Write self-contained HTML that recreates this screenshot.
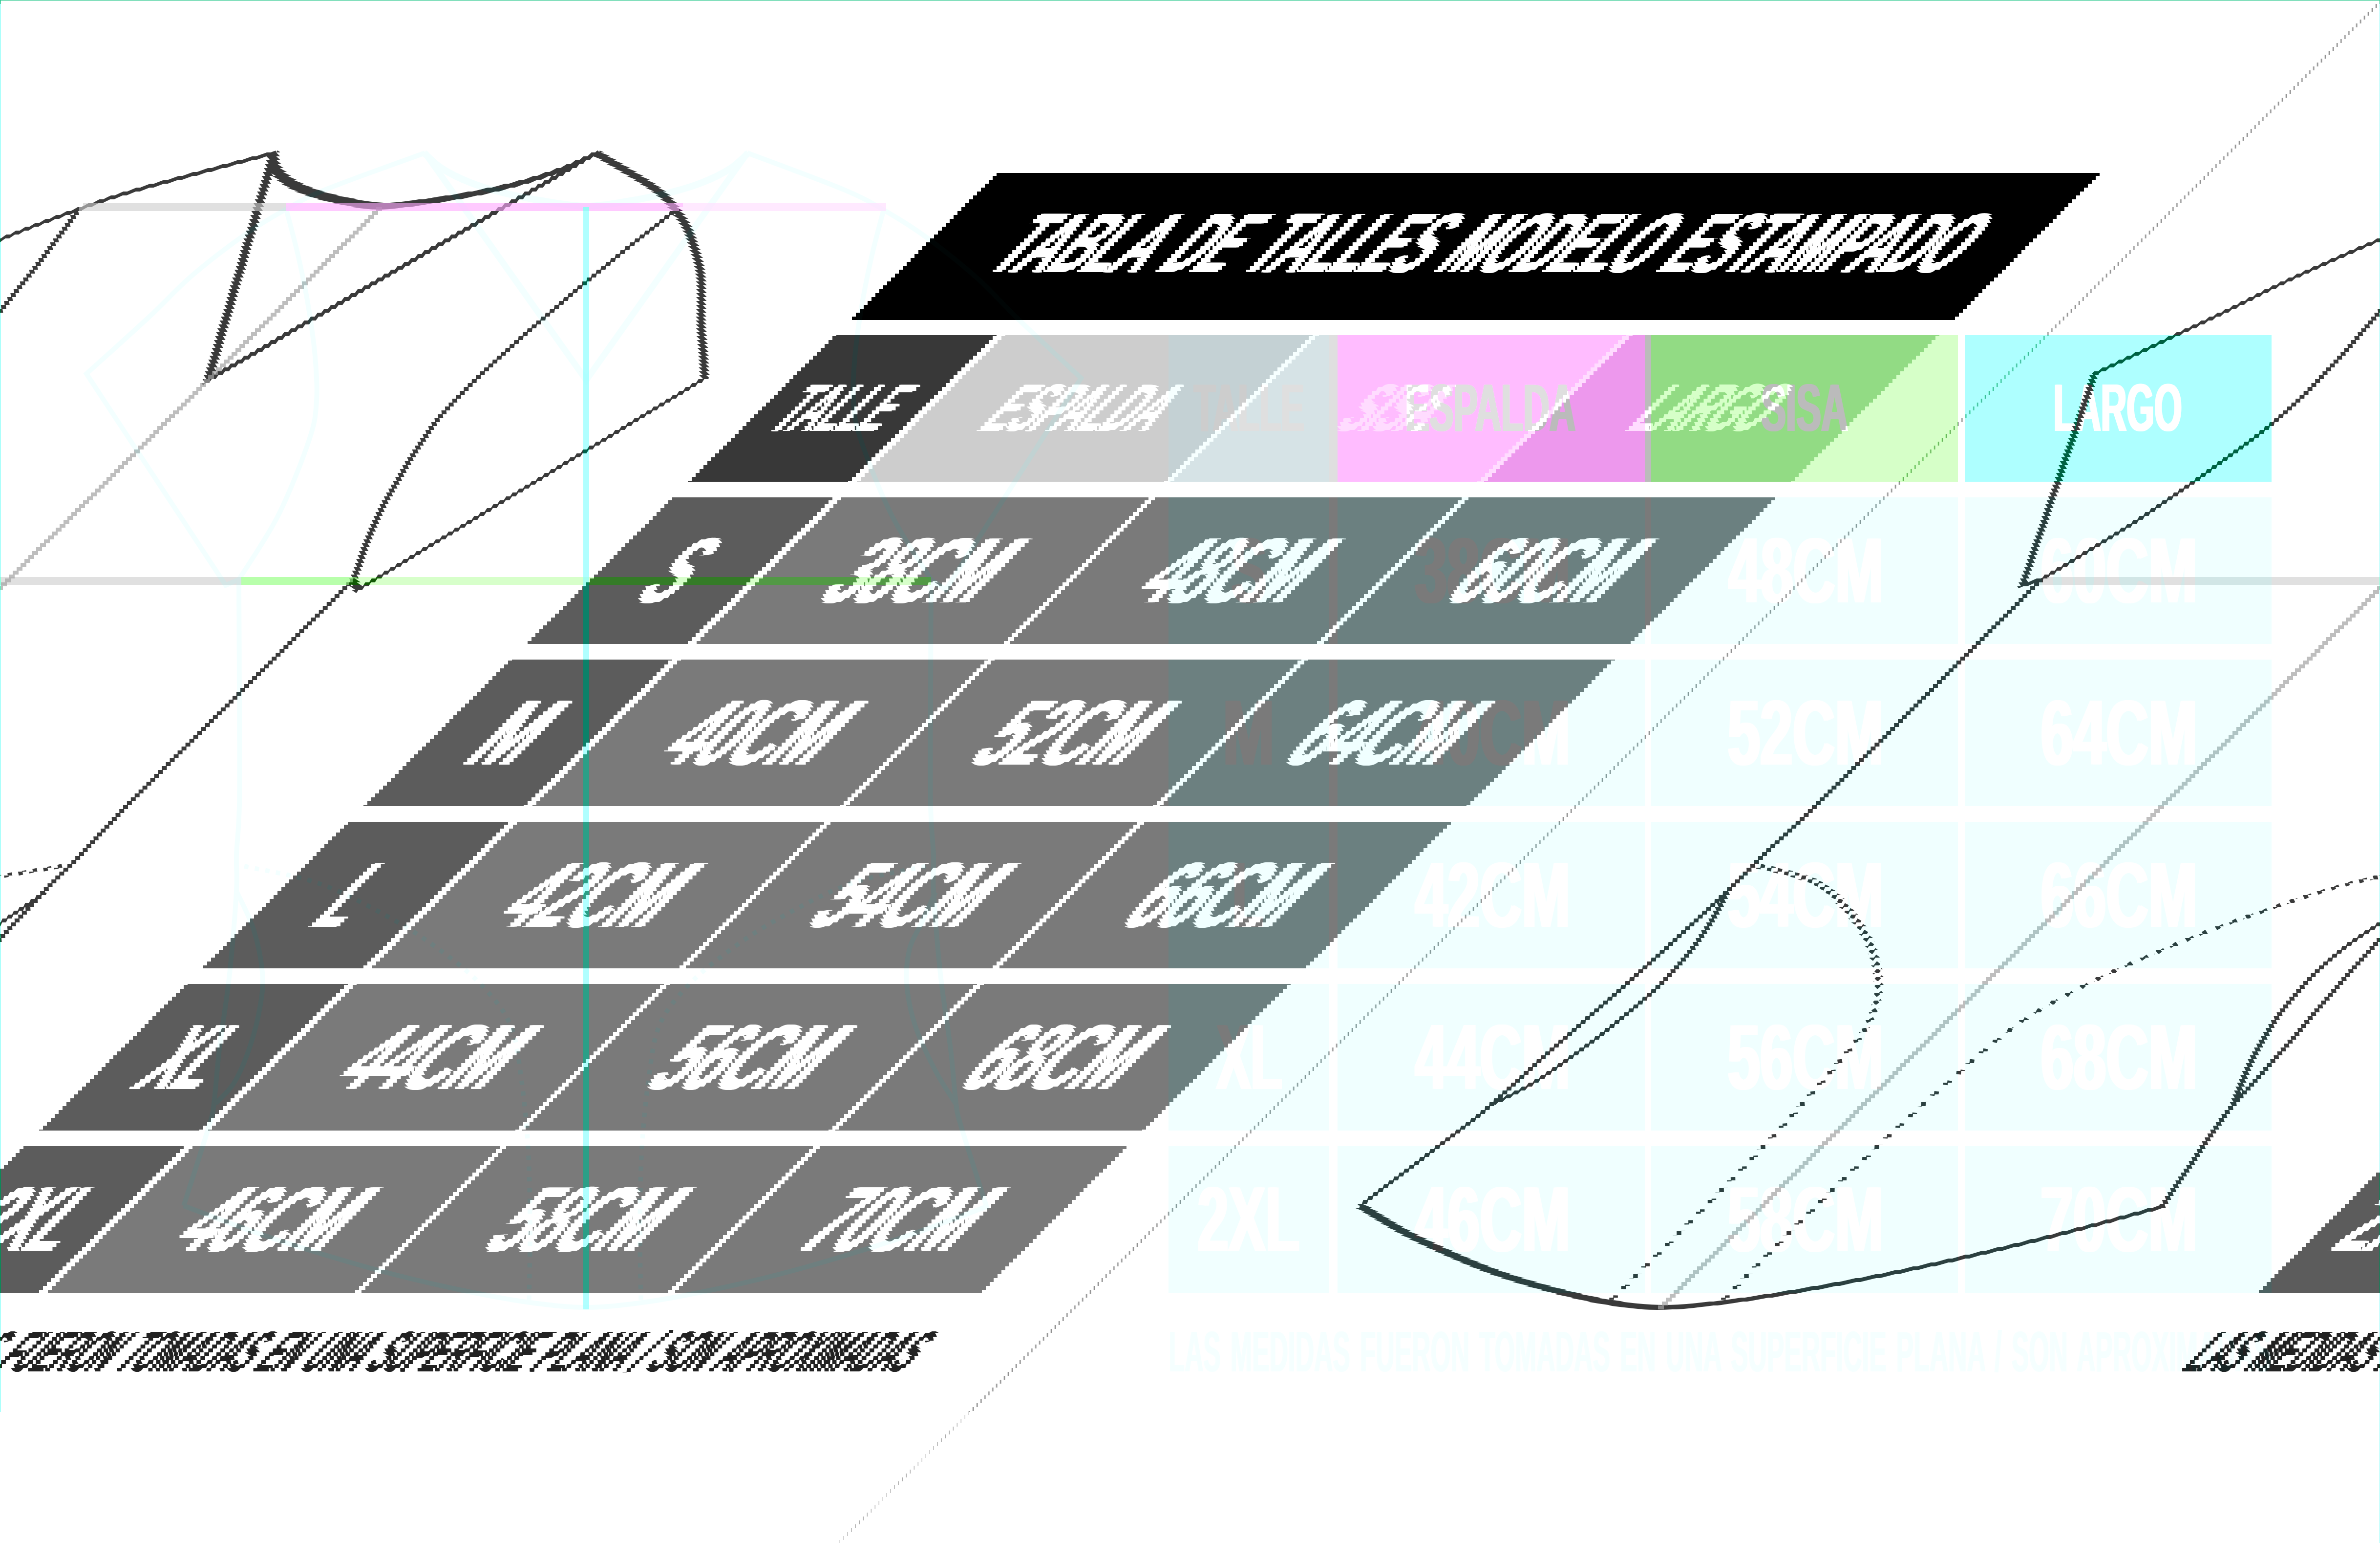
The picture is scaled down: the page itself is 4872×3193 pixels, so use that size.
<!DOCTYPE html>
<html lang="es"><head><meta charset="utf-8"><title>Tabla de talles modelo estampado</title>
<style>
html,body{margin:0;padding:0;background:#fff}
body{width:4872px;height:3193px;overflow:hidden}
svg{display:block;isolation:isolate}
text{font-family:"Liberation Sans",sans-serif;font-weight:700}
.t{fill:var(--txt)}
.f{fill:var(--ftx)}
.bar{fill:var(--bar)}.hT{fill:var(--hT)}.hE{fill:var(--hE)}.hS{fill:var(--hS)}.hL{fill:var(--hL)}
.fr{fill:var(--fr)}.fr2{fill:var(--fr);opacity:.75}.cT{fill:var(--cT)}.cD{fill:var(--cD)}
.lE{fill:var(--lE);opacity:.62}.lS{fill:var(--lS);opacity:.62}.lL{fill:var(--lL);opacity:.7}
.o,.on,.ov,.od{fill:none;stroke:var(--ol);stroke-width:10;stroke-linejoin:miter;stroke-linecap:butt}
.on{stroke-width:14}.ov{stroke-width:13}
.od{stroke-width:9.5;stroke-dasharray:9 13}
.L{--bar:rgb(0,0,0);--hT:rgb(56,56,56);--hE:rgb(205,205,205);--hS:rgb(223,223,223);--hL:rgb(187,187,187);--cT:rgb(92,92,92);--cD:rgb(122,122,122);--txt:rgb(255,255,255);--ftx:rgb(34,34,34);--ol:rgb(58,58,58);--lE:rgb(205,205,205);--lS:rgb(205,205,205);--lL:rgb(162,162,162);--fr:rgb(145,145,145)}
.P{--bar:rgb(0,0,0);--hT:rgb(0,4,7);--hE:rgb(50,0,50);--hS:rgb(0,32,0);--hL:rgb(0,39,9);--cT:rgb(0,6,6);--cD:rgb(0,6,6);--txt:rgb(0,0,0);--ftx:rgb(0,4,4);--ol:rgb(0,5,5);--lE:rgb(50,0,50);--lS:rgb(0,50,0);--lL:rgb(0,53,18);--fr:rgb(0,55,0);mix-blend-mode:screen;mix-blend-mode:plus-lighter}
.N{--bar:rgb(0,0,0);--hT:rgb(9,0,0);--hE:rgb(0,35,0);--hS:rgb(41,0,55);--hL:rgb(81,0,0);--cT:rgb(14,0,0);--cD:rgb(15,0,0);--txt:rgb(0,0,0);--ftx:rgb(10,0,0);--ol:rgb(12,0,0);--lE:rgb(0,35,0);--lS:rgb(65,0,85);--lL:rgb(112,0,0);--fr:rgb(105,0,5);mix-blend-mode:screen;mix-blend-mode:plus-lighter}
.inv{fill:#fff;mix-blend-mode:difference}
</style></head><body>
<svg width="4872" height="3193" viewBox="0 0 4872 3193">
<defs>
<g id="b0"><rect class="bar" x="2392" y="354" width="2258" height="301"/><text class="t" transform="translate(2562,557) scale(0.5491,1)" font-size="173" word-spacing="20.8">TABLA DE TALLES MODELO ESTAMPADO</text><text class="t" transform="translate(2565,557) scale(0.5491,1)" font-size="173" word-spacing="20.8">TABLA DE TALLES MODELO ESTAMPADO</text><text class="t" transform="translate(2568,557) scale(0.5491,1)" font-size="173" word-spacing="20.8">TABLA DE TALLES MODELO ESTAMPADO</text></g>
<g id="b1"><rect class="hT" x="2392" y="686" width="328" height="300"/><text class="t" transform="translate(2442.2,882) scale(0.5191,1)" font-size="138.1">TALLE</text><text class="t" transform="translate(2444.2,882) scale(0.5191,1)" font-size="138.1">TALLE</text><text class="t" transform="translate(2446.2,882) scale(0.5191,1)" font-size="138.1">TALLE</text><rect class="hE" x="2738" y="686" width="629" height="300"/><text class="t" transform="translate(2874.6,882) scale(0.5370,1)" font-size="138.1">ESPALDA</text><text class="t" transform="translate(2876.6,882) scale(0.5370,1)" font-size="138.1">ESPALDA</text><text class="t" transform="translate(2878.6,882) scale(0.5370,1)" font-size="138.1">ESPALDA</text><rect class="hS" x="3380" y="686" width="628" height="300"/><text class="t" transform="translate(3602.9,882) scale(0.5527,1)" font-size="138.1">SISA</text><text class="t" transform="translate(3604.9,882) scale(0.5527,1)" font-size="138.1">SISA</text><text class="t" transform="translate(3606.9,882) scale(0.5527,1)" font-size="138.1">SISA</text><rect class="hL" x="4022" y="686" width="628" height="300"/><text class="t" transform="translate(4201.7,882) scale(0.5272,1)" font-size="138.1">LARGO</text><text class="t" transform="translate(4203.7,882) scale(0.5272,1)" font-size="138.1">LARGO</text><text class="t" transform="translate(4205.7,882) scale(0.5272,1)" font-size="138.1">LARGO</text></g>
<g id="b2"><rect class="cT" x="2392" y="1018" width="328" height="300"/><text class="t" transform="translate(2518,1233) scale(0.5645,1)" font-size="189">S</text><text class="t" transform="translate(2521,1233) scale(0.5645,1)" font-size="189">S</text><text class="t" transform="translate(2524,1233) scale(0.5645,1)" font-size="189">S</text><rect class="cD" x="2738" y="1018" width="629" height="300"/><text class="t" transform="translate(2892.9,1233) scale(0.6320,1)" font-size="189">38CM</text><text class="t" transform="translate(2895.9,1233) scale(0.6320,1)" font-size="189">38CM</text><text class="t" transform="translate(2898.9,1233) scale(0.6320,1)" font-size="189">38CM</text><rect class="cD" x="3380" y="1018" width="628" height="300"/><text class="t" transform="translate(3535.2,1233) scale(0.6303,1)" font-size="189">48CM</text><text class="t" transform="translate(3538.2,1233) scale(0.6303,1)" font-size="189">48CM</text><text class="t" transform="translate(3541.2,1233) scale(0.6303,1)" font-size="189">48CM</text><rect class="cD" x="4022" y="1018" width="628" height="300"/><text class="t" transform="translate(4174.7,1233) scale(0.6355,1)" font-size="189">60CM</text><text class="t" transform="translate(4177.7,1233) scale(0.6355,1)" font-size="189">60CM</text><text class="t" transform="translate(4180.7,1233) scale(0.6355,1)" font-size="189">60CM</text></g>
<g id="b3"><rect class="cT" x="2392" y="1350" width="328" height="300"/><text class="t" transform="translate(2500.1,1565) scale(0.6719,1)" font-size="189">M</text><text class="t" transform="translate(2503.1,1565) scale(0.6719,1)" font-size="189">M</text><text class="t" transform="translate(2506.1,1565) scale(0.6719,1)" font-size="189">M</text><rect class="cD" x="2738" y="1350" width="629" height="300"/><text class="t" transform="translate(2893.7,1565) scale(0.6303,1)" font-size="189">40CM</text><text class="t" transform="translate(2896.7,1565) scale(0.6303,1)" font-size="189">40CM</text><text class="t" transform="translate(2899.7,1565) scale(0.6303,1)" font-size="189">40CM</text><rect class="cD" x="3380" y="1350" width="628" height="300"/><text class="t" transform="translate(3533.4,1565) scale(0.6340,1)" font-size="189">52CM</text><text class="t" transform="translate(3536.4,1565) scale(0.6340,1)" font-size="189">52CM</text><text class="t" transform="translate(3539.4,1565) scale(0.6340,1)" font-size="189">52CM</text><rect class="cD" x="4022" y="1350" width="628" height="300"/><text class="t" transform="translate(4174.7,1565) scale(0.6355,1)" font-size="189">64CM</text><text class="t" transform="translate(4177.7,1565) scale(0.6355,1)" font-size="189">64CM</text><text class="t" transform="translate(4180.7,1565) scale(0.6355,1)" font-size="189">64CM</text></g>
<g id="b4"><rect class="cT" x="2392" y="1682" width="328" height="300"/><text class="t" transform="translate(2520.3,1897) scale(0.5344,1)" font-size="189">L</text><text class="t" transform="translate(2523.3,1897) scale(0.5344,1)" font-size="189">L</text><text class="t" transform="translate(2526.3,1897) scale(0.5344,1)" font-size="189">L</text><rect class="cD" x="2738" y="1682" width="629" height="300"/><text class="t" transform="translate(2893.7,1897) scale(0.6303,1)" font-size="189">42CM</text><text class="t" transform="translate(2896.7,1897) scale(0.6303,1)" font-size="189">42CM</text><text class="t" transform="translate(2899.7,1897) scale(0.6303,1)" font-size="189">42CM</text><rect class="cD" x="3380" y="1682" width="628" height="300"/><text class="t" transform="translate(3533.4,1897) scale(0.6340,1)" font-size="189">54CM</text><text class="t" transform="translate(3536.4,1897) scale(0.6340,1)" font-size="189">54CM</text><text class="t" transform="translate(3539.4,1897) scale(0.6340,1)" font-size="189">54CM</text><rect class="cD" x="4022" y="1682" width="628" height="300"/><text class="t" transform="translate(4174.7,1897) scale(0.6355,1)" font-size="189">66CM</text><text class="t" transform="translate(4177.7,1897) scale(0.6355,1)" font-size="189">66CM</text><text class="t" transform="translate(4180.7,1897) scale(0.6355,1)" font-size="189">66CM</text></g>
<g id="b5"><rect class="cT" x="2392" y="2014" width="328" height="300"/><text class="t" transform="translate(2487.2,2229) scale(0.5548,1)" font-size="189">XL</text><text class="t" transform="translate(2490.2,2229) scale(0.5548,1)" font-size="189">XL</text><text class="t" transform="translate(2493.2,2229) scale(0.5548,1)" font-size="189">XL</text><rect class="cD" x="2738" y="2014" width="629" height="300"/><text class="t" transform="translate(2893.7,2229) scale(0.6303,1)" font-size="189">44CM</text><text class="t" transform="translate(2896.7,2229) scale(0.6303,1)" font-size="189">44CM</text><text class="t" transform="translate(2899.7,2229) scale(0.6303,1)" font-size="189">44CM</text><rect class="cD" x="3380" y="2014" width="628" height="300"/><text class="t" transform="translate(3533.4,2229) scale(0.6340,1)" font-size="189">56CM</text><text class="t" transform="translate(3536.4,2229) scale(0.6340,1)" font-size="189">56CM</text><text class="t" transform="translate(3539.4,2229) scale(0.6340,1)" font-size="189">56CM</text><rect class="cD" x="4022" y="2014" width="628" height="300"/><text class="t" transform="translate(4174.7,2229) scale(0.6355,1)" font-size="189">68CM</text><text class="t" transform="translate(4177.7,2229) scale(0.6355,1)" font-size="189">68CM</text><text class="t" transform="translate(4180.7,2229) scale(0.6355,1)" font-size="189">68CM</text></g>
<g id="b6"><rect class="cT" x="2392" y="2346" width="328" height="300"/><text class="t" transform="translate(2448.6,2561) scale(0.6010,1)" font-size="189">2XL</text><text class="t" transform="translate(2451.6,2561) scale(0.6010,1)" font-size="189">2XL</text><text class="t" transform="translate(2454.6,2561) scale(0.6010,1)" font-size="189">2XL</text><rect class="cD" x="2738" y="2346" width="629" height="300"/><text class="t" transform="translate(2893.7,2561) scale(0.6303,1)" font-size="189">46CM</text><text class="t" transform="translate(2896.7,2561) scale(0.6303,1)" font-size="189">46CM</text><text class="t" transform="translate(2899.7,2561) scale(0.6303,1)" font-size="189">46CM</text><rect class="cD" x="3380" y="2346" width="628" height="300"/><text class="t" transform="translate(3533.4,2561) scale(0.6340,1)" font-size="189">58CM</text><text class="t" transform="translate(3536.4,2561) scale(0.6340,1)" font-size="189">58CM</text><text class="t" transform="translate(3539.4,2561) scale(0.6340,1)" font-size="189">58CM</text><rect class="cD" x="4022" y="2346" width="628" height="300"/><text class="t" transform="translate(4173.9,2561) scale(0.6370,1)" font-size="189">70CM</text><text class="t" transform="translate(4176.9,2561) scale(0.6370,1)" font-size="189">70CM</text><text class="t" transform="translate(4179.9,2561) scale(0.6370,1)" font-size="189">70CM</text></g>
<g id="b7"><text class="f" transform="translate(2391.5,2807) scale(0.4514,1)" font-size="117.7" word-spacing="11.8">LAS MEDIDAS FUERON TOMADAS EN UNA SUPERFICIE PLANA / SON APROXIMADAS</text><text class="f" transform="translate(2392.5,2807) scale(0.4514,1)" font-size="117.7" word-spacing="11.8">LAS MEDIDAS FUERON TOMADAS EN UNA SUPERFICIE PLANA / SON APROXIMADAS</text><text class="f" transform="translate(2393.5,2807) scale(0.4514,1)" font-size="117.7" word-spacing="11.8">LAS MEDIDAS FUERON TOMADAS EN UNA SUPERFICIE PLANA / SON APROXIMADAS</text></g>
<g id="T"><path class="o" d="M870.0,313.0C836.5,325.3 717.5,367.2 669.0,387.0C620.5,406.8 607.8,415.8 579.0,432.0C550.2,448.2 527.2,461.8 496.0,484.0C464.8,506.2 423.7,537.7 392.0,565.0C360.3,592.3 341.8,614.7 306.0,648.0C270.2,681.3 198.5,745.5 177.0,765.0L462,1198 L489,1186"/><path class="o" d="M1530.0,313.0C1563.0,325.6 1680.3,368.2 1728.1,388.5C1775.9,408.7 1788.4,417.9 1816.8,434.4C1845.2,450.9 1867.9,464.8 1898.6,487.4C1929.3,510.0 1969.9,542.1 2001.1,570.0C2032.3,597.9 2050.5,620.7 2085.9,654.7C2121.2,688.7 2191.8,754.1 2213.0,774.0L1936,1207 L1906,1187"/><path class="o" d="M489.0,1186.0C489.2,1225.0 489.8,1342.7 490.0,1420.0C490.2,1497.3 491.0,1595.0 490.0,1650.0C489.0,1705.0 485.0,1721.0 484.0,1750.0C483.0,1779.0 486.3,1783.5 484.0,1824.0C481.7,1864.5 475.8,1939.0 470.0,1993.0C464.2,2047.0 454.3,2103.8 449.0,2148.0C443.7,2192.2 441.5,2232.0 438.0,2258.0C434.5,2284.0 438.3,2269.0 428.0,2304.0C417.7,2339.0 384.7,2440.7 376.0,2468.0"/><path class="o" d="M586.0,429.0C590.0,444.5 602.5,489.2 610.0,522.0C617.5,554.8 625.2,591.3 631.0,626.0C636.8,660.7 642.2,697.7 645.0,730.0C647.8,762.3 650.0,791.7 648.0,820.0C646.0,848.3 646.0,861.0 633.0,900.0C620.0,939.0 594.0,1006.3 570.0,1054.0C546.0,1101.7 502.5,1164.0 489.0,1186.0"/><path class="od" d="M500.0,1773.0C525.8,1779.0 604.0,1790.7 655.0,1809.0C706.0,1827.3 763.2,1859.0 806.0,1883.0C848.8,1907.0 880.8,1929.5 912.0,1953.0C943.2,1976.5 970.7,1999.3 993.0,2024.0C1015.3,2048.7 1033.7,2070.5 1046.0,2101.0C1058.3,2131.5 1061.2,2165.8 1067.0,2207.0C1072.8,2248.2 1078.0,2296.8 1081.0,2348.0C1084.0,2399.2 1084.7,2461.7 1085.0,2514.0C1085.3,2566.3 1083.3,2637.3 1083.0,2662.0"/><path class="o" d="M1906.0,1186.0C1905.8,1225.0 1905.2,1342.7 1905.0,1420.0C1904.8,1497.3 1904.0,1595.0 1905.0,1650.0C1906.0,1705.0 1910.0,1721.0 1911.0,1750.0C1912.0,1779.0 1908.7,1783.5 1911.0,1824.0C1913.3,1864.5 1919.2,1939.0 1925.0,1993.0C1930.8,2047.0 1940.7,2103.8 1946.0,2148.0C1951.3,2192.2 1953.5,2232.0 1957.0,2258.0C1960.5,2284.0 1956.7,2269.0 1967.0,2304.0C1977.3,2339.0 2010.3,2440.7 2019.0,2468.0"/><path class="o" d="M1809.0,429.0C1805.0,444.5 1792.5,489.2 1785.0,522.0C1777.5,554.8 1769.8,591.3 1764.0,626.0C1758.2,660.7 1752.8,697.7 1750.0,730.0C1747.2,762.3 1745.0,791.7 1747.0,820.0C1749.0,848.3 1749.0,861.0 1762.0,900.0C1775.0,939.0 1801.0,1006.3 1825.0,1054.0C1849.0,1101.7 1892.5,1164.0 1906.0,1186.0"/><path class="od" d="M1895.0,1773.0C1869.2,1779.0 1791.0,1790.7 1740.0,1809.0C1689.0,1827.3 1631.8,1859.0 1589.0,1883.0C1546.2,1907.0 1514.2,1929.5 1483.0,1953.0C1451.8,1976.5 1424.3,1999.3 1402.0,2024.0C1379.7,2048.7 1361.3,2070.5 1349.0,2101.0C1336.7,2131.5 1333.8,2165.8 1328.0,2207.0C1322.2,2248.2 1317.0,2296.8 1314.0,2348.0C1311.0,2399.2 1310.3,2461.7 1310.0,2514.0C1309.7,2566.3 1311.7,2637.3 1312.0,2662.0"/><path class="o" d="M485.0,1826.0C490.7,1838.7 510.3,1874.7 519.0,1902.0C527.7,1929.3 534.7,1964.2 537.0,1990.0C539.3,2015.8 537.2,2031.8 533.0,2057.0C528.8,2082.2 520.8,2114.7 512.0,2141.0C503.2,2167.3 491.8,2195.3 480.0,2215.0C468.2,2234.7 447.5,2251.7 441.0,2259.0"/><path class="o" d="M1915.0,1826.0C1910.2,1836.7 1894.8,1870.7 1886.0,1890.0C1877.2,1909.3 1867.0,1921.7 1862.0,1942.0C1857.0,1962.3 1854.2,1986.0 1856.0,2012.0C1857.8,2038.0 1863.3,2068.3 1873.0,2098.0C1882.7,2127.7 1900.0,2163.0 1914.0,2190.0C1928.0,2217.0 1949.8,2248.3 1957.0,2260.0"/><path class="o" d="M376.0,2468.0C401.7,2477.5 479.3,2507.5 530.0,2525.0C580.7,2542.5 631.7,2558.5 680.0,2573.0C728.3,2587.5 773.2,2600.2 820.0,2612.0C866.8,2623.8 916.8,2635.0 961.0,2644.0C1005.2,2653.0 1045.2,2660.7 1085.0,2666.0C1124.8,2671.3 1161.7,2676.0 1200.0,2676.0C1238.3,2676.0 1275.2,2671.3 1315.0,2666.0C1354.8,2660.7 1394.8,2653.0 1439.0,2644.0C1483.2,2635.0 1533.2,2623.8 1580.0,2612.0C1626.8,2600.2 1671.7,2587.5 1720.0,2573.0C1768.3,2558.5 1819.3,2542.5 1870.0,2525.0C1920.7,2507.5 1998.3,2477.5 2024.0,2468.0"/><path class="on" d="M868.0,313.0C874.2,318.3 889.5,335.0 905.0,345.0C920.5,355.0 940.5,364.8 961.0,373.0C981.5,381.2 1002.7,387.6 1028.0,394.0C1053.3,400.4 1084.3,406.8 1113.0,411.5C1141.7,416.2 1171.0,422.0 1200.0,422.0C1229.0,422.0 1258.3,416.2 1287.0,411.5C1315.7,406.8 1346.7,400.4 1372.0,394.0C1397.3,387.6 1418.5,381.2 1439.0,373.0C1459.5,364.8 1479.5,355.0 1495.0,345.0C1510.5,335.0 1525.8,318.3 1532.0,313.0"/><path class="ov" d="M870,313 L1200,778 L1530,313"/><rect class="lE" x="586" y="416" width="1228" height="16"/><rect class="lS" x="494" y="1181" width="1412" height="16"/><rect class="lL" x="1194" y="424" width="12" height="2256"/></g>
<g id="F0"><rect class="fr" x="0" y="0" width="4872" height="1.2"/></g>
<g id="F1"><rect class="fr" x="0" y="0" width="1.6" height="2890"/><rect class="fr2" x="4870.6" y="0" width="1.4" height="3158"/></g>
<g id="d"><use href="#b0"/><use href="#b1"/><use href="#b2"/><use href="#b3"/><use href="#b4"/><use href="#b5"/><use href="#b6"/><use href="#b7"/><use href="#T"/><use href="#F0"/><use href="#F1"/></g>
<g id="k0"><g><use href="#F0"/><use href="#F1"/></g><g transform="translate(4872,0)"><use href="#F0"/><use href="#F1"/></g></g>
<g id="k1"><g><use href="#F1"/></g><g transform="translate(4872,0)"><use href="#F1"/></g></g>
<g id="k2"><g><use href="#T"/><use href="#F1"/></g><g transform="translate(4872,0)"><use href="#T"/><use href="#F1"/></g></g>
<g id="k3"><g><use href="#b0"/><use href="#T"/><use href="#F1"/></g><g transform="translate(4872,0)"><use href="#b0"/><use href="#T"/><use href="#F1"/></g></g>
<g id="k4"><g><use href="#b1"/><use href="#T"/><use href="#F1"/></g><g transform="translate(4872,0)"><use href="#b1"/><use href="#T"/><use href="#F1"/></g></g>
<g id="k5"><g><use href="#b2"/><use href="#T"/><use href="#F1"/></g><g transform="translate(4872,0)"><use href="#b2"/><use href="#T"/><use href="#F1"/></g></g>
<g id="k6"><g><use href="#b3"/><use href="#T"/><use href="#F1"/></g><g transform="translate(4872,0)"><use href="#b3"/><use href="#T"/><use href="#F1"/></g></g>
<g id="k7"><g><use href="#b4"/><use href="#T"/><use href="#F1"/></g><g transform="translate(4872,0)"><use href="#b4"/><use href="#T"/><use href="#F1"/></g></g>
<g id="k8"><g><use href="#b5"/><use href="#T"/><use href="#F1"/></g><g transform="translate(4872,0)"><use href="#b5"/><use href="#T"/><use href="#F1"/></g></g>
<g id="k9"><g><use href="#b6"/><use href="#T"/><use href="#F1"/></g><g transform="translate(4872,0)"><use href="#b6"/><use href="#T"/><use href="#F1"/></g></g>
<g id="k10"><g><use href="#b7"/><use href="#F1"/></g><g transform="translate(4872,0)"><use href="#b7"/><use href="#F1"/></g></g>
<clipPath id="cs"><rect x="0" y="0" width="4872" height="8"/></clipPath>
</defs>
<rect width="4872" height="3193" fill="#fff"/>
<g class="L">
<g transform="translate(0,0)"><g clip-path="url(#cs)"><use href="#k0" x="0" y="0"/></g></g>
<g transform="translate(0,8)"><g clip-path="url(#cs)"><use href="#k1" x="-8" y="-8"/></g></g>
<g transform="translate(0,16)"><g clip-path="url(#cs)"><use href="#k1" x="-16" y="-16"/></g></g>
<g transform="translate(0,24)"><g clip-path="url(#cs)"><use href="#k1" x="-24" y="-24"/></g></g>
<g transform="translate(0,32)"><g clip-path="url(#cs)"><use href="#k1" x="-32" y="-32"/></g></g>
<g transform="translate(0,40)"><g clip-path="url(#cs)"><use href="#k1" x="-40" y="-40"/></g></g>
<g transform="translate(0,48)"><g clip-path="url(#cs)"><use href="#k1" x="-48" y="-48"/></g></g>
<g transform="translate(0,56)"><g clip-path="url(#cs)"><use href="#k1" x="-56" y="-56"/></g></g>
<g transform="translate(0,64)"><g clip-path="url(#cs)"><use href="#k1" x="-64" y="-64"/></g></g>
<g transform="translate(0,72)"><g clip-path="url(#cs)"><use href="#k1" x="-72" y="-72"/></g></g>
<g transform="translate(0,80)"><g clip-path="url(#cs)"><use href="#k1" x="-80" y="-80"/></g></g>
<g transform="translate(0,88)"><g clip-path="url(#cs)"><use href="#k1" x="-88" y="-88"/></g></g>
<g transform="translate(0,96)"><g clip-path="url(#cs)"><use href="#k1" x="-96" y="-96"/></g></g>
<g transform="translate(0,104)"><g clip-path="url(#cs)"><use href="#k1" x="-104" y="-104"/></g></g>
<g transform="translate(0,112)"><g clip-path="url(#cs)"><use href="#k1" x="-112" y="-112"/></g></g>
<g transform="translate(0,120)"><g clip-path="url(#cs)"><use href="#k1" x="-120" y="-120"/></g></g>
<g transform="translate(0,128)"><g clip-path="url(#cs)"><use href="#k1" x="-128" y="-128"/></g></g>
<g transform="translate(0,136)"><g clip-path="url(#cs)"><use href="#k1" x="-136" y="-136"/></g></g>
<g transform="translate(0,144)"><g clip-path="url(#cs)"><use href="#k1" x="-144" y="-144"/></g></g>
<g transform="translate(0,152)"><g clip-path="url(#cs)"><use href="#k1" x="-152" y="-152"/></g></g>
<g transform="translate(0,160)"><g clip-path="url(#cs)"><use href="#k1" x="-160" y="-160"/></g></g>
<g transform="translate(0,168)"><g clip-path="url(#cs)"><use href="#k1" x="-168" y="-168"/></g></g>
<g transform="translate(0,176)"><g clip-path="url(#cs)"><use href="#k1" x="-176" y="-176"/></g></g>
<g transform="translate(0,184)"><g clip-path="url(#cs)"><use href="#k1" x="-184" y="-184"/></g></g>
<g transform="translate(0,192)"><g clip-path="url(#cs)"><use href="#k1" x="-192" y="-192"/></g></g>
<g transform="translate(0,200)"><g clip-path="url(#cs)"><use href="#k1" x="-200" y="-200"/></g></g>
<g transform="translate(0,208)"><g clip-path="url(#cs)"><use href="#k1" x="-208" y="-208"/></g></g>
<g transform="translate(0,216)"><g clip-path="url(#cs)"><use href="#k1" x="-216" y="-216"/></g></g>
<g transform="translate(0,224)"><g clip-path="url(#cs)"><use href="#k1" x="-224" y="-224"/></g></g>
<g transform="translate(0,232)"><g clip-path="url(#cs)"><use href="#k1" x="-232" y="-232"/></g></g>
<g transform="translate(0,240)"><g clip-path="url(#cs)"><use href="#k1" x="-240" y="-240"/></g></g>
<g transform="translate(0,248)"><g clip-path="url(#cs)"><use href="#k1" x="-248" y="-248"/></g></g>
<g transform="translate(0,256)"><g clip-path="url(#cs)"><use href="#k1" x="-256" y="-256"/></g></g>
<g transform="translate(0,264)"><g clip-path="url(#cs)"><use href="#k1" x="-264" y="-264"/></g></g>
<g transform="translate(0,272)"><g clip-path="url(#cs)"><use href="#k1" x="-272" y="-272"/></g></g>
<g transform="translate(0,280)"><g clip-path="url(#cs)"><use href="#k1" x="-280" y="-280"/></g></g>
<g transform="translate(0,288)"><g clip-path="url(#cs)"><use href="#k1" x="-288" y="-288"/></g></g>
<g transform="translate(0,296)"><g clip-path="url(#cs)"><use href="#k2" x="-296" y="-296"/></g></g>
<g transform="translate(0,304)"><g clip-path="url(#cs)"><use href="#k2" x="-304" y="-304"/></g></g>
<g transform="translate(0,312)"><g clip-path="url(#cs)"><use href="#k2" x="-312" y="-312"/></g></g>
<g transform="translate(0,320)"><g clip-path="url(#cs)"><use href="#k2" x="-320" y="-320"/></g></g>
<g transform="translate(0,328)"><g clip-path="url(#cs)"><use href="#k2" x="-328" y="-328"/></g></g>
<g transform="translate(0,336)"><g clip-path="url(#cs)"><use href="#k2" x="-336" y="-336"/></g></g>
<g transform="translate(0,344)"><g clip-path="url(#cs)"><use href="#k2" x="-344" y="-344"/></g></g>
<g transform="translate(0,352)"><g clip-path="url(#cs)"><use href="#k3" x="-352" y="-352"/></g></g>
<g transform="translate(0,360)"><g clip-path="url(#cs)"><use href="#k3" x="-360" y="-360"/></g></g>
<g transform="translate(0,368)"><g clip-path="url(#cs)"><use href="#k3" x="-368" y="-368"/></g></g>
<g transform="translate(0,376)"><g clip-path="url(#cs)"><use href="#k3" x="-376" y="-376"/></g></g>
<g transform="translate(0,384)"><g clip-path="url(#cs)"><use href="#k3" x="-384" y="-384"/></g></g>
<g transform="translate(0,392)"><g clip-path="url(#cs)"><use href="#k3" x="-392" y="-392"/></g></g>
<g transform="translate(0,400)"><g clip-path="url(#cs)"><use href="#k3" x="-400" y="-400"/></g></g>
<g transform="translate(0,408)"><g clip-path="url(#cs)"><use href="#k3" x="-408" y="-408"/></g></g>
<g transform="translate(0,416)"><g clip-path="url(#cs)"><use href="#k3" x="-416" y="-416"/></g></g>
<g transform="translate(0,424)"><g clip-path="url(#cs)"><use href="#k3" x="-424" y="-424"/></g></g>
<g transform="translate(0,432)"><g clip-path="url(#cs)"><use href="#k3" x="-432" y="-432"/></g></g>
<g transform="translate(0,440)"><g clip-path="url(#cs)"><use href="#k3" x="-440" y="-440"/></g></g>
<g transform="translate(0,448)"><g clip-path="url(#cs)"><use href="#k3" x="-448" y="-448"/></g></g>
<g transform="translate(0,456)"><g clip-path="url(#cs)"><use href="#k3" x="-456" y="-456"/></g></g>
<g transform="translate(0,464)"><g clip-path="url(#cs)"><use href="#k3" x="-464" y="-464"/></g></g>
<g transform="translate(0,472)"><g clip-path="url(#cs)"><use href="#k3" x="-472" y="-472"/></g></g>
<g transform="translate(0,480)"><g clip-path="url(#cs)"><use href="#k3" x="-480" y="-480"/></g></g>
<g transform="translate(0,488)"><g clip-path="url(#cs)"><use href="#k3" x="-488" y="-488"/></g></g>
<g transform="translate(0,496)"><g clip-path="url(#cs)"><use href="#k3" x="-496" y="-496"/></g></g>
<g transform="translate(0,504)"><g clip-path="url(#cs)"><use href="#k3" x="-504" y="-504"/></g></g>
<g transform="translate(0,512)"><g clip-path="url(#cs)"><use href="#k3" x="-512" y="-512"/></g></g>
<g transform="translate(0,520)"><g clip-path="url(#cs)"><use href="#k3" x="-520" y="-520"/></g></g>
<g transform="translate(0,528)"><g clip-path="url(#cs)"><use href="#k3" x="-528" y="-528"/></g></g>
<g transform="translate(0,536)"><g clip-path="url(#cs)"><use href="#k3" x="-536" y="-536"/></g></g>
<g transform="translate(0,544)"><g clip-path="url(#cs)"><use href="#k3" x="-544" y="-544"/></g></g>
<g transform="translate(0,552)"><g clip-path="url(#cs)"><use href="#k3" x="-552" y="-552"/></g></g>
<g transform="translate(0,560)"><g clip-path="url(#cs)"><use href="#k3" x="-560" y="-560"/></g></g>
<g transform="translate(0,568)"><g clip-path="url(#cs)"><use href="#k3" x="-568" y="-568"/></g></g>
<g transform="translate(0,576)"><g clip-path="url(#cs)"><use href="#k3" x="-576" y="-576"/></g></g>
<g transform="translate(0,584)"><g clip-path="url(#cs)"><use href="#k3" x="-584" y="-584"/></g></g>
<g transform="translate(0,592)"><g clip-path="url(#cs)"><use href="#k3" x="-592" y="-592"/></g></g>
<g transform="translate(0,600)"><g clip-path="url(#cs)"><use href="#k3" x="-600" y="-600"/></g></g>
<g transform="translate(0,608)"><g clip-path="url(#cs)"><use href="#k3" x="-608" y="-608"/></g></g>
<g transform="translate(0,616)"><g clip-path="url(#cs)"><use href="#k3" x="-616" y="-616"/></g></g>
<g transform="translate(0,624)"><g clip-path="url(#cs)"><use href="#k3" x="-624" y="-624"/></g></g>
<g transform="translate(0,632)"><g clip-path="url(#cs)"><use href="#k3" x="-632" y="-632"/></g></g>
<g transform="translate(0,640)"><g clip-path="url(#cs)"><use href="#k3" x="-640" y="-640"/></g></g>
<g transform="translate(0,648)"><g clip-path="url(#cs)"><use href="#k3" x="-648" y="-648"/></g></g>
<g transform="translate(0,656)"><g clip-path="url(#cs)"><use href="#k2" x="-656" y="-656"/></g></g>
<g transform="translate(0,664)"><g clip-path="url(#cs)"><use href="#k2" x="-664" y="-664"/></g></g>
<g transform="translate(0,672)"><g clip-path="url(#cs)"><use href="#k2" x="-672" y="-672"/></g></g>
<g transform="translate(0,680)"><g clip-path="url(#cs)"><use href="#k4" x="-680" y="-680"/></g></g>
<g transform="translate(0,688)"><g clip-path="url(#cs)"><use href="#k4" x="-688" y="-688"/></g></g>
<g transform="translate(0,696)"><g clip-path="url(#cs)"><use href="#k4" x="-696" y="-696"/></g></g>
<g transform="translate(0,704)"><g clip-path="url(#cs)"><use href="#k4" x="-704" y="-704"/></g></g>
<g transform="translate(0,712)"><g clip-path="url(#cs)"><use href="#k4" x="-712" y="-712"/></g></g>
<g transform="translate(0,720)"><g clip-path="url(#cs)"><use href="#k4" x="-720" y="-720"/></g></g>
<g transform="translate(0,728)"><g clip-path="url(#cs)"><use href="#k4" x="-728" y="-728"/></g></g>
<g transform="translate(0,736)"><g clip-path="url(#cs)"><use href="#k4" x="-736" y="-736"/></g></g>
<g transform="translate(0,744)"><g clip-path="url(#cs)"><use href="#k4" x="-744" y="-744"/></g></g>
<g transform="translate(0,752)"><g clip-path="url(#cs)"><use href="#k4" x="-752" y="-752"/></g></g>
<g transform="translate(0,760)"><g clip-path="url(#cs)"><use href="#k4" x="-760" y="-760"/></g></g>
<g transform="translate(0,768)"><g clip-path="url(#cs)"><use href="#k4" x="-768" y="-768"/></g></g>
<g transform="translate(0,776)"><g clip-path="url(#cs)"><use href="#k4" x="-776" y="-776"/></g></g>
<g transform="translate(0,784)"><g clip-path="url(#cs)"><use href="#k4" x="-784" y="-784"/></g></g>
<g transform="translate(0,792)"><g clip-path="url(#cs)"><use href="#k4" x="-792" y="-792"/></g></g>
<g transform="translate(0,800)"><g clip-path="url(#cs)"><use href="#k4" x="-800" y="-800"/></g></g>
<g transform="translate(0,808)"><g clip-path="url(#cs)"><use href="#k4" x="-808" y="-808"/></g></g>
<g transform="translate(0,816)"><g clip-path="url(#cs)"><use href="#k4" x="-816" y="-816"/></g></g>
<g transform="translate(0,824)"><g clip-path="url(#cs)"><use href="#k4" x="-824" y="-824"/></g></g>
<g transform="translate(0,832)"><g clip-path="url(#cs)"><use href="#k4" x="-832" y="-832"/></g></g>
<g transform="translate(0,840)"><g clip-path="url(#cs)"><use href="#k4" x="-840" y="-840"/></g></g>
<g transform="translate(0,848)"><g clip-path="url(#cs)"><use href="#k4" x="-848" y="-848"/></g></g>
<g transform="translate(0,856)"><g clip-path="url(#cs)"><use href="#k4" x="-856" y="-856"/></g></g>
<g transform="translate(0,864)"><g clip-path="url(#cs)"><use href="#k4" x="-864" y="-864"/></g></g>
<g transform="translate(0,872)"><g clip-path="url(#cs)"><use href="#k4" x="-872" y="-872"/></g></g>
<g transform="translate(0,880)"><g clip-path="url(#cs)"><use href="#k4" x="-880" y="-880"/></g></g>
<g transform="translate(0,888)"><g clip-path="url(#cs)"><use href="#k4" x="-888" y="-888"/></g></g>
<g transform="translate(0,896)"><g clip-path="url(#cs)"><use href="#k4" x="-896" y="-896"/></g></g>
<g transform="translate(0,904)"><g clip-path="url(#cs)"><use href="#k4" x="-904" y="-904"/></g></g>
<g transform="translate(0,912)"><g clip-path="url(#cs)"><use href="#k4" x="-912" y="-912"/></g></g>
<g transform="translate(0,920)"><g clip-path="url(#cs)"><use href="#k4" x="-920" y="-920"/></g></g>
<g transform="translate(0,928)"><g clip-path="url(#cs)"><use href="#k4" x="-928" y="-928"/></g></g>
<g transform="translate(0,936)"><g clip-path="url(#cs)"><use href="#k4" x="-936" y="-936"/></g></g>
<g transform="translate(0,944)"><g clip-path="url(#cs)"><use href="#k4" x="-944" y="-944"/></g></g>
<g transform="translate(0,952)"><g clip-path="url(#cs)"><use href="#k4" x="-952" y="-952"/></g></g>
<g transform="translate(0,960)"><g clip-path="url(#cs)"><use href="#k4" x="-960" y="-960"/></g></g>
<g transform="translate(0,968)"><g clip-path="url(#cs)"><use href="#k4" x="-968" y="-968"/></g></g>
<g transform="translate(0,976)"><g clip-path="url(#cs)"><use href="#k4" x="-976" y="-976"/></g></g>
<g transform="translate(0,984)"><g clip-path="url(#cs)"><use href="#k4" x="-984" y="-984"/></g></g>
<g transform="translate(0,992)"><g clip-path="url(#cs)"><use href="#k2" x="-992" y="-992"/></g></g>
<g transform="translate(0,1000)"><g clip-path="url(#cs)"><use href="#k2" x="-1000" y="-1000"/></g></g>
<g transform="translate(0,1008)"><g clip-path="url(#cs)"><use href="#k2" x="-1008" y="-1008"/></g></g>
<g transform="translate(0,1016)"><g clip-path="url(#cs)"><use href="#k5" x="-1016" y="-1016"/></g></g>
<g transform="translate(0,1024)"><g clip-path="url(#cs)"><use href="#k5" x="-1024" y="-1024"/></g></g>
<g transform="translate(0,1032)"><g clip-path="url(#cs)"><use href="#k5" x="-1032" y="-1032"/></g></g>
<g transform="translate(0,1040)"><g clip-path="url(#cs)"><use href="#k5" x="-1040" y="-1040"/></g></g>
<g transform="translate(0,1048)"><g clip-path="url(#cs)"><use href="#k5" x="-1048" y="-1048"/></g></g>
<g transform="translate(0,1056)"><g clip-path="url(#cs)"><use href="#k5" x="-1056" y="-1056"/></g></g>
<g transform="translate(0,1064)"><g clip-path="url(#cs)"><use href="#k5" x="-1064" y="-1064"/></g></g>
<g transform="translate(0,1072)"><g clip-path="url(#cs)"><use href="#k5" x="-1072" y="-1072"/></g></g>
<g transform="translate(0,1080)"><g clip-path="url(#cs)"><use href="#k5" x="-1080" y="-1080"/></g></g>
<g transform="translate(0,1088)"><g clip-path="url(#cs)"><use href="#k5" x="-1088" y="-1088"/></g></g>
<g transform="translate(0,1096)"><g clip-path="url(#cs)"><use href="#k5" x="-1096" y="-1096"/></g></g>
<g transform="translate(0,1104)"><g clip-path="url(#cs)"><use href="#k5" x="-1104" y="-1104"/></g></g>
<g transform="translate(0,1112)"><g clip-path="url(#cs)"><use href="#k5" x="-1112" y="-1112"/></g></g>
<g transform="translate(0,1120)"><g clip-path="url(#cs)"><use href="#k5" x="-1120" y="-1120"/></g></g>
<g transform="translate(0,1128)"><g clip-path="url(#cs)"><use href="#k5" x="-1128" y="-1128"/></g></g>
<g transform="translate(0,1136)"><g clip-path="url(#cs)"><use href="#k5" x="-1136" y="-1136"/></g></g>
<g transform="translate(0,1144)"><g clip-path="url(#cs)"><use href="#k5" x="-1144" y="-1144"/></g></g>
<g transform="translate(0,1152)"><g clip-path="url(#cs)"><use href="#k5" x="-1152" y="-1152"/></g></g>
<g transform="translate(0,1160)"><g clip-path="url(#cs)"><use href="#k5" x="-1160" y="-1160"/></g></g>
<g transform="translate(0,1168)"><g clip-path="url(#cs)"><use href="#k5" x="-1168" y="-1168"/></g></g>
<g transform="translate(0,1176)"><g clip-path="url(#cs)"><use href="#k5" x="-1176" y="-1176"/></g></g>
<g transform="translate(0,1184)"><g clip-path="url(#cs)"><use href="#k5" x="-1184" y="-1184"/></g></g>
<g transform="translate(0,1192)"><g clip-path="url(#cs)"><use href="#k5" x="-1192" y="-1192"/></g></g>
<g transform="translate(0,1200)"><g clip-path="url(#cs)"><use href="#k5" x="-1200" y="-1200"/></g></g>
<g transform="translate(0,1208)"><g clip-path="url(#cs)"><use href="#k5" x="-1208" y="-1208"/></g></g>
<g transform="translate(0,1216)"><g clip-path="url(#cs)"><use href="#k5" x="-1216" y="-1216"/></g></g>
<g transform="translate(0,1224)"><g clip-path="url(#cs)"><use href="#k5" x="-1224" y="-1224"/></g></g>
<g transform="translate(0,1232)"><g clip-path="url(#cs)"><use href="#k5" x="-1232" y="-1232"/></g></g>
<g transform="translate(0,1240)"><g clip-path="url(#cs)"><use href="#k5" x="-1240" y="-1240"/></g></g>
<g transform="translate(0,1248)"><g clip-path="url(#cs)"><use href="#k5" x="-1248" y="-1248"/></g></g>
<g transform="translate(0,1256)"><g clip-path="url(#cs)"><use href="#k5" x="-1256" y="-1256"/></g></g>
<g transform="translate(0,1264)"><g clip-path="url(#cs)"><use href="#k5" x="-1264" y="-1264"/></g></g>
<g transform="translate(0,1272)"><g clip-path="url(#cs)"><use href="#k5" x="-1272" y="-1272"/></g></g>
<g transform="translate(0,1280)"><g clip-path="url(#cs)"><use href="#k5" x="-1280" y="-1280"/></g></g>
<g transform="translate(0,1288)"><g clip-path="url(#cs)"><use href="#k5" x="-1288" y="-1288"/></g></g>
<g transform="translate(0,1296)"><g clip-path="url(#cs)"><use href="#k5" x="-1296" y="-1296"/></g></g>
<g transform="translate(0,1304)"><g clip-path="url(#cs)"><use href="#k5" x="-1304" y="-1304"/></g></g>
<g transform="translate(0,1312)"><g clip-path="url(#cs)"><use href="#k5" x="-1312" y="-1312"/></g></g>
<g transform="translate(0,1320)"><g clip-path="url(#cs)"><use href="#k2" x="-1320" y="-1320"/></g></g>
<g transform="translate(0,1328)"><g clip-path="url(#cs)"><use href="#k2" x="-1328" y="-1328"/></g></g>
<g transform="translate(0,1336)"><g clip-path="url(#cs)"><use href="#k2" x="-1336" y="-1336"/></g></g>
<g transform="translate(0,1344)"><g clip-path="url(#cs)"><use href="#k6" x="-1344" y="-1344"/></g></g>
<g transform="translate(0,1352)"><g clip-path="url(#cs)"><use href="#k6" x="-1352" y="-1352"/></g></g>
<g transform="translate(0,1360)"><g clip-path="url(#cs)"><use href="#k6" x="-1360" y="-1360"/></g></g>
<g transform="translate(0,1368)"><g clip-path="url(#cs)"><use href="#k6" x="-1368" y="-1368"/></g></g>
<g transform="translate(0,1376)"><g clip-path="url(#cs)"><use href="#k6" x="-1376" y="-1376"/></g></g>
<g transform="translate(0,1384)"><g clip-path="url(#cs)"><use href="#k6" x="-1384" y="-1384"/></g></g>
<g transform="translate(0,1392)"><g clip-path="url(#cs)"><use href="#k6" x="-1392" y="-1392"/></g></g>
<g transform="translate(0,1400)"><g clip-path="url(#cs)"><use href="#k6" x="-1400" y="-1400"/></g></g>
<g transform="translate(0,1408)"><g clip-path="url(#cs)"><use href="#k6" x="-1408" y="-1408"/></g></g>
<g transform="translate(0,1416)"><g clip-path="url(#cs)"><use href="#k6" x="-1416" y="-1416"/></g></g>
<g transform="translate(0,1424)"><g clip-path="url(#cs)"><use href="#k6" x="-1424" y="-1424"/></g></g>
<g transform="translate(0,1432)"><g clip-path="url(#cs)"><use href="#k6" x="-1432" y="-1432"/></g></g>
<g transform="translate(0,1440)"><g clip-path="url(#cs)"><use href="#k6" x="-1440" y="-1440"/></g></g>
<g transform="translate(0,1448)"><g clip-path="url(#cs)"><use href="#k6" x="-1448" y="-1448"/></g></g>
<g transform="translate(0,1456)"><g clip-path="url(#cs)"><use href="#k6" x="-1456" y="-1456"/></g></g>
<g transform="translate(0,1464)"><g clip-path="url(#cs)"><use href="#k6" x="-1464" y="-1464"/></g></g>
<g transform="translate(0,1472)"><g clip-path="url(#cs)"><use href="#k6" x="-1472" y="-1472"/></g></g>
<g transform="translate(0,1480)"><g clip-path="url(#cs)"><use href="#k6" x="-1480" y="-1480"/></g></g>
<g transform="translate(0,1488)"><g clip-path="url(#cs)"><use href="#k6" x="-1488" y="-1488"/></g></g>
<g transform="translate(0,1496)"><g clip-path="url(#cs)"><use href="#k6" x="-1496" y="-1496"/></g></g>
<g transform="translate(0,1504)"><g clip-path="url(#cs)"><use href="#k6" x="-1504" y="-1504"/></g></g>
<g transform="translate(0,1512)"><g clip-path="url(#cs)"><use href="#k6" x="-1512" y="-1512"/></g></g>
<g transform="translate(0,1520)"><g clip-path="url(#cs)"><use href="#k6" x="-1520" y="-1520"/></g></g>
<g transform="translate(0,1528)"><g clip-path="url(#cs)"><use href="#k6" x="-1528" y="-1528"/></g></g>
<g transform="translate(0,1536)"><g clip-path="url(#cs)"><use href="#k6" x="-1536" y="-1536"/></g></g>
<g transform="translate(0,1544)"><g clip-path="url(#cs)"><use href="#k6" x="-1544" y="-1544"/></g></g>
<g transform="translate(0,1552)"><g clip-path="url(#cs)"><use href="#k6" x="-1552" y="-1552"/></g></g>
<g transform="translate(0,1560)"><g clip-path="url(#cs)"><use href="#k6" x="-1560" y="-1560"/></g></g>
<g transform="translate(0,1568)"><g clip-path="url(#cs)"><use href="#k6" x="-1568" y="-1568"/></g></g>
<g transform="translate(0,1576)"><g clip-path="url(#cs)"><use href="#k6" x="-1576" y="-1576"/></g></g>
<g transform="translate(0,1584)"><g clip-path="url(#cs)"><use href="#k6" x="-1584" y="-1584"/></g></g>
<g transform="translate(0,1592)"><g clip-path="url(#cs)"><use href="#k6" x="-1592" y="-1592"/></g></g>
<g transform="translate(0,1600)"><g clip-path="url(#cs)"><use href="#k6" x="-1600" y="-1600"/></g></g>
<g transform="translate(0,1608)"><g clip-path="url(#cs)"><use href="#k6" x="-1608" y="-1608"/></g></g>
<g transform="translate(0,1616)"><g clip-path="url(#cs)"><use href="#k6" x="-1616" y="-1616"/></g></g>
<g transform="translate(0,1624)"><g clip-path="url(#cs)"><use href="#k6" x="-1624" y="-1624"/></g></g>
<g transform="translate(0,1632)"><g clip-path="url(#cs)"><use href="#k6" x="-1632" y="-1632"/></g></g>
<g transform="translate(0,1640)"><g clip-path="url(#cs)"><use href="#k6" x="-1640" y="-1640"/></g></g>
<g transform="translate(0,1648)"><g clip-path="url(#cs)"><use href="#k6" x="-1648" y="-1648"/></g></g>
<g transform="translate(0,1656)"><g clip-path="url(#cs)"><use href="#k2" x="-1656" y="-1656"/></g></g>
<g transform="translate(0,1664)"><g clip-path="url(#cs)"><use href="#k2" x="-1664" y="-1664"/></g></g>
<g transform="translate(0,1672)"><g clip-path="url(#cs)"><use href="#k2" x="-1672" y="-1672"/></g></g>
<g transform="translate(0,1680)"><g clip-path="url(#cs)"><use href="#k7" x="-1680" y="-1680"/></g></g>
<g transform="translate(0,1688)"><g clip-path="url(#cs)"><use href="#k7" x="-1688" y="-1688"/></g></g>
<g transform="translate(0,1696)"><g clip-path="url(#cs)"><use href="#k7" x="-1696" y="-1696"/></g></g>
<g transform="translate(0,1704)"><g clip-path="url(#cs)"><use href="#k7" x="-1704" y="-1704"/></g></g>
<g transform="translate(0,1712)"><g clip-path="url(#cs)"><use href="#k7" x="-1712" y="-1712"/></g></g>
<g transform="translate(0,1720)"><g clip-path="url(#cs)"><use href="#k7" x="-1720" y="-1720"/></g></g>
<g transform="translate(0,1728)"><g clip-path="url(#cs)"><use href="#k7" x="-1728" y="-1728"/></g></g>
<g transform="translate(0,1736)"><g clip-path="url(#cs)"><use href="#k7" x="-1736" y="-1736"/></g></g>
<g transform="translate(0,1744)"><g clip-path="url(#cs)"><use href="#k7" x="-1744" y="-1744"/></g></g>
<g transform="translate(0,1752)"><g clip-path="url(#cs)"><use href="#k7" x="-1752" y="-1752"/></g></g>
<g transform="translate(0,1760)"><g clip-path="url(#cs)"><use href="#k7" x="-1760" y="-1760"/></g></g>
<g transform="translate(0,1768)"><g clip-path="url(#cs)"><use href="#k7" x="-1768" y="-1768"/></g></g>
<g transform="translate(0,1776)"><g clip-path="url(#cs)"><use href="#k7" x="-1776" y="-1776"/></g></g>
<g transform="translate(0,1784)"><g clip-path="url(#cs)"><use href="#k7" x="-1784" y="-1784"/></g></g>
<g transform="translate(0,1792)"><g clip-path="url(#cs)"><use href="#k7" x="-1792" y="-1792"/></g></g>
<g transform="translate(0,1800)"><g clip-path="url(#cs)"><use href="#k7" x="-1800" y="-1800"/></g></g>
<g transform="translate(0,1808)"><g clip-path="url(#cs)"><use href="#k7" x="-1808" y="-1808"/></g></g>
<g transform="translate(0,1816)"><g clip-path="url(#cs)"><use href="#k7" x="-1816" y="-1816"/></g></g>
<g transform="translate(0,1824)"><g clip-path="url(#cs)"><use href="#k7" x="-1824" y="-1824"/></g></g>
<g transform="translate(0,1832)"><g clip-path="url(#cs)"><use href="#k7" x="-1832" y="-1832"/></g></g>
<g transform="translate(0,1840)"><g clip-path="url(#cs)"><use href="#k7" x="-1840" y="-1840"/></g></g>
<g transform="translate(0,1848)"><g clip-path="url(#cs)"><use href="#k7" x="-1848" y="-1848"/></g></g>
<g transform="translate(0,1856)"><g clip-path="url(#cs)"><use href="#k7" x="-1856" y="-1856"/></g></g>
<g transform="translate(0,1864)"><g clip-path="url(#cs)"><use href="#k7" x="-1864" y="-1864"/></g></g>
<g transform="translate(0,1872)"><g clip-path="url(#cs)"><use href="#k7" x="-1872" y="-1872"/></g></g>
<g transform="translate(0,1880)"><g clip-path="url(#cs)"><use href="#k7" x="-1880" y="-1880"/></g></g>
<g transform="translate(0,1888)"><g clip-path="url(#cs)"><use href="#k7" x="-1888" y="-1888"/></g></g>
<g transform="translate(0,1896)"><g clip-path="url(#cs)"><use href="#k7" x="-1896" y="-1896"/></g></g>
<g transform="translate(0,1904)"><g clip-path="url(#cs)"><use href="#k7" x="-1904" y="-1904"/></g></g>
<g transform="translate(0,1912)"><g clip-path="url(#cs)"><use href="#k7" x="-1912" y="-1912"/></g></g>
<g transform="translate(0,1920)"><g clip-path="url(#cs)"><use href="#k7" x="-1920" y="-1920"/></g></g>
<g transform="translate(0,1928)"><g clip-path="url(#cs)"><use href="#k7" x="-1928" y="-1928"/></g></g>
<g transform="translate(0,1936)"><g clip-path="url(#cs)"><use href="#k7" x="-1936" y="-1936"/></g></g>
<g transform="translate(0,1944)"><g clip-path="url(#cs)"><use href="#k7" x="-1944" y="-1944"/></g></g>
<g transform="translate(0,1952)"><g clip-path="url(#cs)"><use href="#k7" x="-1952" y="-1952"/></g></g>
<g transform="translate(0,1960)"><g clip-path="url(#cs)"><use href="#k7" x="-1960" y="-1960"/></g></g>
<g transform="translate(0,1968)"><g clip-path="url(#cs)"><use href="#k7" x="-1968" y="-1968"/></g></g>
<g transform="translate(0,1976)"><g clip-path="url(#cs)"><use href="#k7" x="-1976" y="-1976"/></g></g>
<g transform="translate(0,1984)"><g clip-path="url(#cs)"><use href="#k2" x="-1984" y="-1984"/></g></g>
<g transform="translate(0,1992)"><g clip-path="url(#cs)"><use href="#k2" x="-1992" y="-1992"/></g></g>
<g transform="translate(0,2000)"><g clip-path="url(#cs)"><use href="#k2" x="-2000" y="-2000"/></g></g>
<g transform="translate(0,2008)"><g clip-path="url(#cs)"><use href="#k8" x="-2008" y="-2008"/></g></g>
<g transform="translate(0,2016)"><g clip-path="url(#cs)"><use href="#k8" x="-2016" y="-2016"/></g></g>
<g transform="translate(0,2024)"><g clip-path="url(#cs)"><use href="#k8" x="-2024" y="-2024"/></g></g>
<g transform="translate(0,2032)"><g clip-path="url(#cs)"><use href="#k8" x="-2032" y="-2032"/></g></g>
<g transform="translate(0,2040)"><g clip-path="url(#cs)"><use href="#k8" x="-2040" y="-2040"/></g></g>
<g transform="translate(0,2048)"><g clip-path="url(#cs)"><use href="#k8" x="-2048" y="-2048"/></g></g>
<g transform="translate(0,2056)"><g clip-path="url(#cs)"><use href="#k8" x="-2056" y="-2056"/></g></g>
<g transform="translate(0,2064)"><g clip-path="url(#cs)"><use href="#k8" x="-2064" y="-2064"/></g></g>
<g transform="translate(0,2072)"><g clip-path="url(#cs)"><use href="#k8" x="-2072" y="-2072"/></g></g>
<g transform="translate(0,2080)"><g clip-path="url(#cs)"><use href="#k8" x="-2080" y="-2080"/></g></g>
<g transform="translate(0,2088)"><g clip-path="url(#cs)"><use href="#k8" x="-2088" y="-2088"/></g></g>
<g transform="translate(0,2096)"><g clip-path="url(#cs)"><use href="#k8" x="-2096" y="-2096"/></g></g>
<g transform="translate(0,2104)"><g clip-path="url(#cs)"><use href="#k8" x="-2104" y="-2104"/></g></g>
<g transform="translate(0,2112)"><g clip-path="url(#cs)"><use href="#k8" x="-2112" y="-2112"/></g></g>
<g transform="translate(0,2120)"><g clip-path="url(#cs)"><use href="#k8" x="-2120" y="-2120"/></g></g>
<g transform="translate(0,2128)"><g clip-path="url(#cs)"><use href="#k8" x="-2128" y="-2128"/></g></g>
<g transform="translate(0,2136)"><g clip-path="url(#cs)"><use href="#k8" x="-2136" y="-2136"/></g></g>
<g transform="translate(0,2144)"><g clip-path="url(#cs)"><use href="#k8" x="-2144" y="-2144"/></g></g>
<g transform="translate(0,2152)"><g clip-path="url(#cs)"><use href="#k8" x="-2152" y="-2152"/></g></g>
<g transform="translate(0,2160)"><g clip-path="url(#cs)"><use href="#k8" x="-2160" y="-2160"/></g></g>
<g transform="translate(0,2168)"><g clip-path="url(#cs)"><use href="#k8" x="-2168" y="-2168"/></g></g>
<g transform="translate(0,2176)"><g clip-path="url(#cs)"><use href="#k8" x="-2176" y="-2176"/></g></g>
<g transform="translate(0,2184)"><g clip-path="url(#cs)"><use href="#k8" x="-2184" y="-2184"/></g></g>
<g transform="translate(0,2192)"><g clip-path="url(#cs)"><use href="#k8" x="-2192" y="-2192"/></g></g>
<g transform="translate(0,2200)"><g clip-path="url(#cs)"><use href="#k8" x="-2200" y="-2200"/></g></g>
<g transform="translate(0,2208)"><g clip-path="url(#cs)"><use href="#k8" x="-2208" y="-2208"/></g></g>
<g transform="translate(0,2216)"><g clip-path="url(#cs)"><use href="#k8" x="-2216" y="-2216"/></g></g>
<g transform="translate(0,2224)"><g clip-path="url(#cs)"><use href="#k8" x="-2224" y="-2224"/></g></g>
<g transform="translate(0,2232)"><g clip-path="url(#cs)"><use href="#k8" x="-2232" y="-2232"/></g></g>
<g transform="translate(0,2240)"><g clip-path="url(#cs)"><use href="#k8" x="-2240" y="-2240"/></g></g>
<g transform="translate(0,2248)"><g clip-path="url(#cs)"><use href="#k8" x="-2248" y="-2248"/></g></g>
<g transform="translate(0,2256)"><g clip-path="url(#cs)"><use href="#k8" x="-2256" y="-2256"/></g></g>
<g transform="translate(0,2264)"><g clip-path="url(#cs)"><use href="#k8" x="-2264" y="-2264"/></g></g>
<g transform="translate(0,2272)"><g clip-path="url(#cs)"><use href="#k8" x="-2272" y="-2272"/></g></g>
<g transform="translate(0,2280)"><g clip-path="url(#cs)"><use href="#k8" x="-2280" y="-2280"/></g></g>
<g transform="translate(0,2288)"><g clip-path="url(#cs)"><use href="#k8" x="-2288" y="-2288"/></g></g>
<g transform="translate(0,2296)"><g clip-path="url(#cs)"><use href="#k8" x="-2296" y="-2296"/></g></g>
<g transform="translate(0,2304)"><g clip-path="url(#cs)"><use href="#k8" x="-2304" y="-2304"/></g></g>
<g transform="translate(0,2312)"><g clip-path="url(#cs)"><use href="#k8" x="-2312" y="-2312"/></g></g>
<g transform="translate(0,2320)"><g clip-path="url(#cs)"><use href="#k2" x="-2320" y="-2320"/></g></g>
<g transform="translate(0,2328)"><g clip-path="url(#cs)"><use href="#k2" x="-2328" y="-2328"/></g></g>
<g transform="translate(0,2336)"><g clip-path="url(#cs)"><use href="#k2" x="-2336" y="-2336"/></g></g>
<g transform="translate(0,2344)"><g clip-path="url(#cs)"><use href="#k9" x="-2344" y="-2344"/></g></g>
<g transform="translate(0,2352)"><g clip-path="url(#cs)"><use href="#k9" x="-2352" y="-2352"/></g></g>
<g transform="translate(0,2360)"><g clip-path="url(#cs)"><use href="#k9" x="-2360" y="-2360"/></g></g>
<g transform="translate(0,2368)"><g clip-path="url(#cs)"><use href="#k9" x="-2368" y="-2368"/></g></g>
<g transform="translate(0,2376)"><g clip-path="url(#cs)"><use href="#k9" x="-2376" y="-2376"/></g></g>
<g transform="translate(0,2384)"><g clip-path="url(#cs)"><use href="#k9" x="-2384" y="-2384"/></g></g>
<g transform="translate(0,2392)"><g clip-path="url(#cs)"><use href="#k9" x="-2392" y="-2392"/></g></g>
<g transform="translate(0,2400)"><g clip-path="url(#cs)"><use href="#k9" x="-2400" y="-2400"/></g></g>
<g transform="translate(0,2408)"><g clip-path="url(#cs)"><use href="#k9" x="-2408" y="-2408"/></g></g>
<g transform="translate(0,2416)"><g clip-path="url(#cs)"><use href="#k9" x="-2416" y="-2416"/></g></g>
<g transform="translate(0,2424)"><g clip-path="url(#cs)"><use href="#k9" x="-2424" y="-2424"/></g></g>
<g transform="translate(0,2432)"><g clip-path="url(#cs)"><use href="#k9" x="-2432" y="-2432"/></g></g>
<g transform="translate(0,2440)"><g clip-path="url(#cs)"><use href="#k9" x="-2440" y="-2440"/></g></g>
<g transform="translate(0,2448)"><g clip-path="url(#cs)"><use href="#k9" x="-2448" y="-2448"/></g></g>
<g transform="translate(0,2456)"><g clip-path="url(#cs)"><use href="#k9" x="-2456" y="-2456"/></g></g>
<g transform="translate(0,2464)"><g clip-path="url(#cs)"><use href="#k9" x="-2464" y="-2464"/></g></g>
<g transform="translate(0,2472)"><g clip-path="url(#cs)"><use href="#k9" x="-2472" y="-2472"/></g></g>
<g transform="translate(0,2480)"><g clip-path="url(#cs)"><use href="#k9" x="-2480" y="-2480"/></g></g>
<g transform="translate(0,2488)"><g clip-path="url(#cs)"><use href="#k9" x="-2488" y="-2488"/></g></g>
<g transform="translate(0,2496)"><g clip-path="url(#cs)"><use href="#k9" x="-2496" y="-2496"/></g></g>
<g transform="translate(0,2504)"><g clip-path="url(#cs)"><use href="#k9" x="-2504" y="-2504"/></g></g>
<g transform="translate(0,2512)"><g clip-path="url(#cs)"><use href="#k9" x="-2512" y="-2512"/></g></g>
<g transform="translate(0,2520)"><g clip-path="url(#cs)"><use href="#k9" x="-2520" y="-2520"/></g></g>
<g transform="translate(0,2528)"><g clip-path="url(#cs)"><use href="#k9" x="-2528" y="-2528"/></g></g>
<g transform="translate(0,2536)"><g clip-path="url(#cs)"><use href="#k9" x="-2536" y="-2536"/></g></g>
<g transform="translate(0,2544)"><g clip-path="url(#cs)"><use href="#k9" x="-2544" y="-2544"/></g></g>
<g transform="translate(0,2552)"><g clip-path="url(#cs)"><use href="#k9" x="-2552" y="-2552"/></g></g>
<g transform="translate(0,2560)"><g clip-path="url(#cs)"><use href="#k9" x="-2560" y="-2560"/></g></g>
<g transform="translate(0,2568)"><g clip-path="url(#cs)"><use href="#k9" x="-2568" y="-2568"/></g></g>
<g transform="translate(0,2576)"><g clip-path="url(#cs)"><use href="#k9" x="-2576" y="-2576"/></g></g>
<g transform="translate(0,2584)"><g clip-path="url(#cs)"><use href="#k9" x="-2584" y="-2584"/></g></g>
<g transform="translate(0,2592)"><g clip-path="url(#cs)"><use href="#k9" x="-2592" y="-2592"/></g></g>
<g transform="translate(0,2600)"><g clip-path="url(#cs)"><use href="#k9" x="-2600" y="-2600"/></g></g>
<g transform="translate(0,2608)"><g clip-path="url(#cs)"><use href="#k9" x="-2608" y="-2608"/></g></g>
<g transform="translate(0,2616)"><g clip-path="url(#cs)"><use href="#k9" x="-2616" y="-2616"/></g></g>
<g transform="translate(0,2624)"><g clip-path="url(#cs)"><use href="#k9" x="-2624" y="-2624"/></g></g>
<g transform="translate(0,2632)"><g clip-path="url(#cs)"><use href="#k9" x="-2632" y="-2632"/></g></g>
<g transform="translate(0,2640)"><g clip-path="url(#cs)"><use href="#k9" x="-2640" y="-2640"/></g></g>
<g transform="translate(0,2648)"><g clip-path="url(#cs)"><use href="#k2" x="-2648" y="-2648"/></g></g>
<g transform="translate(0,2656)"><g clip-path="url(#cs)"><use href="#k2" x="-2656" y="-2656"/></g></g>
<g transform="translate(0,2664)"><g clip-path="url(#cs)"><use href="#k2" x="-2664" y="-2664"/></g></g>
<g transform="translate(0,2672)"><g clip-path="url(#cs)"><use href="#k2" x="-2672" y="-2672"/></g></g>
<g transform="translate(0,2680)"><g clip-path="url(#cs)"><use href="#k2" x="-2680" y="-2680"/></g></g>
<g transform="translate(0,2688)"><g clip-path="url(#cs)"><use href="#k2" x="-2688" y="-2688"/></g></g>
<g transform="translate(0,2696)"><g clip-path="url(#cs)"><use href="#k1" x="-2696" y="-2696"/></g></g>
<g transform="translate(0,2704)"><g clip-path="url(#cs)"><use href="#k1" x="-2704" y="-2704"/></g></g>
<g transform="translate(0,2712)"><g clip-path="url(#cs)"><use href="#k10" x="-2712" y="-2712"/></g></g>
<g transform="translate(0,2720)"><g clip-path="url(#cs)"><use href="#k10" x="-2720" y="-2720"/></g></g>
<g transform="translate(0,2728)"><g clip-path="url(#cs)"><use href="#k10" x="-2728" y="-2728"/></g></g>
<g transform="translate(0,2736)"><g clip-path="url(#cs)"><use href="#k10" x="-2736" y="-2736"/></g></g>
<g transform="translate(0,2744)"><g clip-path="url(#cs)"><use href="#k10" x="-2744" y="-2744"/></g></g>
<g transform="translate(0,2752)"><g clip-path="url(#cs)"><use href="#k10" x="-2752" y="-2752"/></g></g>
<g transform="translate(0,2760)"><g clip-path="url(#cs)"><use href="#k10" x="-2760" y="-2760"/></g></g>
<g transform="translate(0,2768)"><g clip-path="url(#cs)"><use href="#k10" x="-2768" y="-2768"/></g></g>
<g transform="translate(0,2776)"><g clip-path="url(#cs)"><use href="#k10" x="-2776" y="-2776"/></g></g>
<g transform="translate(0,2784)"><g clip-path="url(#cs)"><use href="#k10" x="-2784" y="-2784"/></g></g>
<g transform="translate(0,2792)"><g clip-path="url(#cs)"><use href="#k10" x="-2792" y="-2792"/></g></g>
<g transform="translate(0,2800)"><g clip-path="url(#cs)"><use href="#k10" x="-2800" y="-2800"/></g></g>
<g transform="translate(0,2808)"><g clip-path="url(#cs)"><use href="#k10" x="-2808" y="-2808"/></g></g>
<g transform="translate(0,2816)"><g clip-path="url(#cs)"><use href="#k10" x="-2816" y="-2816"/></g></g>
<g transform="translate(0,2824)"><g clip-path="url(#cs)"><use href="#k10" x="-2824" y="-2824"/></g></g>
<g transform="translate(0,2832)"><g clip-path="url(#cs)"><use href="#k10" x="-2832" y="-2832"/></g></g>
<g transform="translate(0,2840)"><g clip-path="url(#cs)"><use href="#k1" x="-2840" y="-2840"/></g></g>
<g transform="translate(0,2848)"><g clip-path="url(#cs)"><use href="#k1" x="-2848" y="-2848"/></g></g>
<g transform="translate(0,2856)"><g clip-path="url(#cs)"><use href="#k1" x="-2856" y="-2856"/></g></g>
<g transform="translate(0,2864)"><g clip-path="url(#cs)"><use href="#k1" x="-2864" y="-2864"/></g></g>
<g transform="translate(0,2872)"><g clip-path="url(#cs)"><use href="#k1" x="-2872" y="-2872"/></g></g>
<g transform="translate(0,2880)"><g clip-path="url(#cs)"><use href="#k1" x="-2880" y="-2880"/></g></g>
<g transform="translate(0,2888)"><g clip-path="url(#cs)"><use href="#k1" x="-2888" y="-2888"/></g></g>
<g transform="translate(0,2896)"><g clip-path="url(#cs)"><use href="#k1" x="-2896" y="-2896"/></g></g>
<g transform="translate(0,2904)"><g clip-path="url(#cs)"><use href="#k1" x="-2904" y="-2904"/></g></g>
<g transform="translate(0,2912)"><g clip-path="url(#cs)"><use href="#k1" x="-2912" y="-2912"/></g></g>
<g transform="translate(0,2920)"><g clip-path="url(#cs)"><use href="#k1" x="-2920" y="-2920"/></g></g>
<g transform="translate(0,2928)"><g clip-path="url(#cs)"><use href="#k1" x="-2928" y="-2928"/></g></g>
<g transform="translate(0,2936)"><g clip-path="url(#cs)"><use href="#k1" x="-2936" y="-2936"/></g></g>
<g transform="translate(0,2944)"><g clip-path="url(#cs)"><use href="#k1" x="-2944" y="-2944"/></g></g>
<g transform="translate(0,2952)"><g clip-path="url(#cs)"><use href="#k1" x="-2952" y="-2952"/></g></g>
<g transform="translate(0,2960)"><g clip-path="url(#cs)"><use href="#k1" x="-2960" y="-2960"/></g></g>
<g transform="translate(0,2968)"><g clip-path="url(#cs)"><use href="#k1" x="-2968" y="-2968"/></g></g>
<g transform="translate(0,2976)"><g clip-path="url(#cs)"><use href="#k1" x="-2976" y="-2976"/></g></g>
<g transform="translate(0,2984)"><g clip-path="url(#cs)"><use href="#k1" x="-2984" y="-2984"/></g></g>
<g transform="translate(0,2992)"><g clip-path="url(#cs)"><use href="#k1" x="-2992" y="-2992"/></g></g>
<g transform="translate(0,3000)"><g clip-path="url(#cs)"><use href="#k1" x="-3000" y="-3000"/></g></g>
<g transform="translate(0,3008)"><g clip-path="url(#cs)"><use href="#k1" x="-3008" y="-3008"/></g></g>
<g transform="translate(0,3016)"><g clip-path="url(#cs)"><use href="#k1" x="-3016" y="-3016"/></g></g>
<g transform="translate(0,3024)"><g clip-path="url(#cs)"><use href="#k1" x="-3024" y="-3024"/></g></g>
<g transform="translate(0,3032)"><g clip-path="url(#cs)"><use href="#k1" x="-3032" y="-3032"/></g></g>
<g transform="translate(0,3040)"><g clip-path="url(#cs)"><use href="#k1" x="-3040" y="-3040"/></g></g>
<g transform="translate(0,3048)"><g clip-path="url(#cs)"><use href="#k1" x="-3048" y="-3048"/></g></g>
<g transform="translate(0,3056)"><g clip-path="url(#cs)"><use href="#k1" x="-3056" y="-3056"/></g></g>
<g transform="translate(0,3064)"><g clip-path="url(#cs)"><use href="#k1" x="-3064" y="-3064"/></g></g>
<g transform="translate(0,3072)"><g clip-path="url(#cs)"><use href="#k1" x="-3072" y="-3072"/></g></g>
<g transform="translate(0,3080)"><g clip-path="url(#cs)"><use href="#k1" x="-3080" y="-3080"/></g></g>
<g transform="translate(0,3088)"><g clip-path="url(#cs)"><use href="#k1" x="-3088" y="-3088"/></g></g>
<g transform="translate(0,3096)"><g clip-path="url(#cs)"><use href="#k1" x="-3096" y="-3096"/></g></g>
<g transform="translate(0,3104)"><g clip-path="url(#cs)"><use href="#k1" x="-3104" y="-3104"/></g></g>
<g transform="translate(0,3112)"><g clip-path="url(#cs)"><use href="#k1" x="-3112" y="-3112"/></g></g>
<g transform="translate(0,3120)"><g clip-path="url(#cs)"><use href="#k1" x="-3120" y="-3120"/></g></g>
<g transform="translate(0,3128)"><g clip-path="url(#cs)"><use href="#k1" x="-3128" y="-3128"/></g></g>
<g transform="translate(0,3136)"><g clip-path="url(#cs)"><use href="#k1" x="-3136" y="-3136"/></g></g>
<g transform="translate(0,3144)"><g clip-path="url(#cs)"><use href="#k1" x="-3144" y="-3144"/></g></g>
<g transform="translate(0,3152)"><g clip-path="url(#cs)"><use href="#k1" x="-3152" y="-3152"/></g></g>
</g>
<g class="P"><use href="#d"/></g>
<rect class="inv" width="4872" height="3193"/>
<g class="N"><use href="#d"/></g>
<rect class="inv" width="4872" height="3193"/>
</svg>
</body></html>
